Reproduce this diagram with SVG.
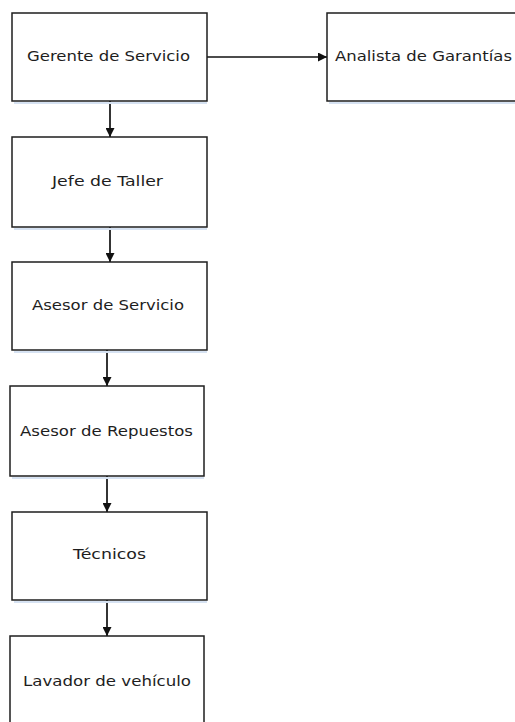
<svg xmlns="http://www.w3.org/2000/svg" width="515" height="722" viewBox="0 0 515 722">
<style>
.box{fill:#fff;stroke:#1e1e1e;stroke-width:1.5}
.sh{fill:none;stroke:#d6e2f2;stroke-width:2}
.lbl{font-family:"DejaVu Sans",Verdana,sans-serif;font-size:13.5px;fill:#1e1e1e}
.con{fill:none;stroke:#111;stroke-width:1.7}
</style>
<defs>
<marker id="ah" markerWidth="9" markerHeight="9" refX="9" refY="4.5" orient="auto" markerUnits="userSpaceOnUse">
<path d="M0,0 L9,4.5 L0,9 Z" fill="#111"/>
</marker>
</defs>
<rect width="515" height="722" fill="#fff"/>
<g id="connectors">
<line class="con" x1="207" y1="57" x2="327" y2="57" marker-end="url(#ah)"/>
<line class="con" x1="110" y1="101" x2="110" y2="137" marker-end="url(#ah)"/>
<line class="con" x1="110" y1="227" x2="110" y2="262" marker-end="url(#ah)"/>
<line class="con" x1="107" y1="350" x2="107" y2="386" marker-end="url(#ah)"/>
<line class="con" x1="107" y1="476" x2="107" y2="512" marker-end="url(#ah)"/>
<line class="con" x1="107" y1="600" x2="107" y2="636" marker-end="url(#ah)"/>
</g>
<g id="gerente">
<line class="sh" x1="14" y1="103" x2="207" y2="103"/>
<rect class="box" x="12" y="13" width="195" height="88"/>
<text class="lbl" x="27" y="61" textLength="163" lengthAdjust="spacingAndGlyphs">Gerente de Servicio</text>
</g>
<g id="analista">
<line class="sh" x1="329" y1="103" x2="515" y2="103"/>
<rect class="box" x="327" y="13" width="200" height="88"/>
<text class="lbl" x="335" y="61" textLength="177" lengthAdjust="spacingAndGlyphs">Analista de Garantías</text>
</g>
<g id="jefe">
<line class="sh" x1="14" y1="229" x2="207" y2="229"/>
<rect class="box" x="12" y="137" width="195" height="90"/>
<text class="lbl" x="52" y="186" textLength="111" lengthAdjust="spacingAndGlyphs">Jefe de Taller</text>
</g>
<g id="asesor-servicio">
<line class="sh" x1="14" y1="352" x2="207" y2="352"/>
<rect class="box" x="12" y="262" width="195" height="88"/>
<text class="lbl" x="32" y="310" textLength="152" lengthAdjust="spacingAndGlyphs">Asesor de Servicio</text>
</g>
<g id="asesor-repuestos">
<line class="sh" x1="12" y1="478" x2="204" y2="478"/>
<rect class="box" x="10" y="386" width="194" height="90"/>
<text class="lbl" x="20" y="436" textLength="173" lengthAdjust="spacingAndGlyphs">Asesor de Repuestos</text>
</g>
<g id="tecnicos">
<line class="sh" x1="14" y1="602" x2="207" y2="602"/>
<rect class="box" x="12" y="512" width="195" height="88"/>
<text class="lbl" x="73" y="559" textLength="73" lengthAdjust="spacingAndGlyphs">Técnicos</text>
</g>
<g id="lavador">
<rect class="box" x="10" y="636" width="194" height="100"/>
<text class="lbl" x="23" y="686" textLength="168" lengthAdjust="spacingAndGlyphs">Lavador de vehículo</text>
</g>
</svg>
